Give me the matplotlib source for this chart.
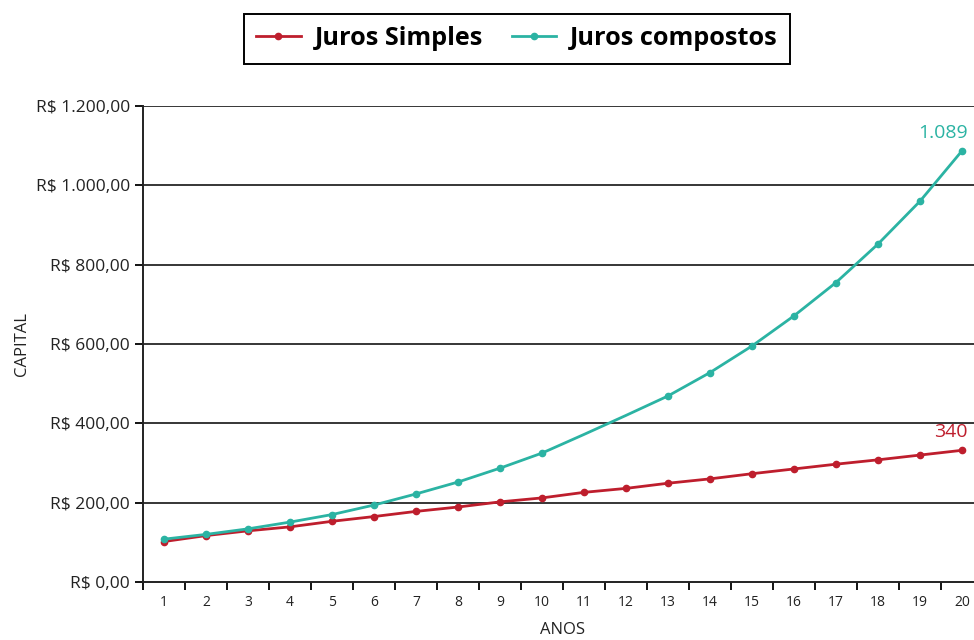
import matplotlib
matplotlib.use("Agg")
import matplotlib.pyplot as plt
from matplotlib.ticker import FixedLocator, FuncFormatter
import numpy as np

# ── dados ───────────────────────────────────────────────────────────────────
anos = list(range(1, 21))
juros_simples = [102, 117, 129, 139, 153, 165, 178, 189, 202, 212,
                 226, 236, 249, 260, 273, 285, 297, 308, 320, 332]
juros_compostos = [108, 120, 134, 151, 170, 194, 222, 252, 287, 325,
                   372, 420, 469, 528, 595, 671, 755, 852, 960, 1087]
# pontos sem marcador na série composta (anos 11 e 12)
sem_marcador = [11, 12]
y_ticks = [0, 200, 400, 600, 800, 1000, 1200]
rotulo_simples = "340"
rotulo_compostos = "1.089"

VERMELHO = "#BE1E2D"
VERDE = "#2BB3A3"

plt.rcParams["font.family"] = ["Open Sans", "DejaVu Sans"]

fig = plt.figure(figsize=(9.74, 6.4), dpi=100)
ax = fig.add_axes([143 / 974, 58 / 640, 840 / 974, 476 / 640])

ax.plot(anos, juros_simples, color=VERMELHO, lw=2.0, marker="o", ms=4.5,
        label="Juros Simples")
marcas = [i for i, a in enumerate(anos) if a not in sem_marcador]
ax.plot(anos, juros_compostos, color=VERDE, lw=2.0, marker="o", ms=4.5,
        markevery=marcas, label="Juros compostos")

ax.set_xlim(0.5, 20.5)
ax.set_ylim(0, 1200)

# eixo x: rótulos no centro, traços entre categorias
ax.set_xticks(anos)
ax.set_xticklabels([str(a) for a in anos], fontsize=10, color="#222222")
ax.tick_params(axis="x", which="major", length=0, pad=9)
ax.xaxis.set_minor_locator(FixedLocator(np.arange(0.5, 21, 1)))
ax.tick_params(axis="x", which="minor", length=6, width=1.3, direction="out")

ax.yaxis.set_major_locator(FixedLocator(y_ticks))
ax.yaxis.set_major_formatter(FuncFormatter(
    lambda v, _: "R$ " + f"{v:,.2f}".replace(",", "X").replace(".", ",").replace("X", ".")))
ax.tick_params(axis="y", length=6, width=1.3, labelsize=12.5, labelcolor="#222222")

for v in y_ticks[1:]:
    ax.axhline(v, color="black", lw=1.1, zorder=0)

for s in ("top", "right"):
    ax.spines[s].set_visible(False)
for s in ("left", "bottom"):
    ax.spines[s].set_linewidth(1.4)
    ax.spines[s].set_color("#222222")

ax.set_xlabel("ANOS", fontsize=12, color="#222222", labelpad=9)
ax.set_ylabel("CAPITAL", fontsize=12, color="#222222", labelpad=4)

ax.annotate(rotulo_simples, (anos[-1], juros_simples[-1]), xytext=(4, 7),
            textcoords="offset points", ha="right", va="bottom",
            color=VERMELHO, fontsize=14)
ax.annotate(rotulo_compostos, (anos[-1], juros_compostos[-1]), xytext=(4, 6),
            textcoords="offset points", ha="right", va="bottom",
            color=VERDE, fontsize=14)

leg = fig.legend(loc="upper center", bbox_to_anchor=(517 / 974, 1 - 1 / 640),
                 ncol=2, fancybox=False, edgecolor="black", framealpha=1,
                 handlelength=1.75, handletextpad=0.55, columnspacing=1.15,
                 borderpad=0.5,
                 prop={"family": ["Open Sans", "DejaVu Sans"], "weight": "bold", "size": 18.2})
leg.get_frame().set_linewidth(1.4)

fig.savefig("out.png", dpi=100)
